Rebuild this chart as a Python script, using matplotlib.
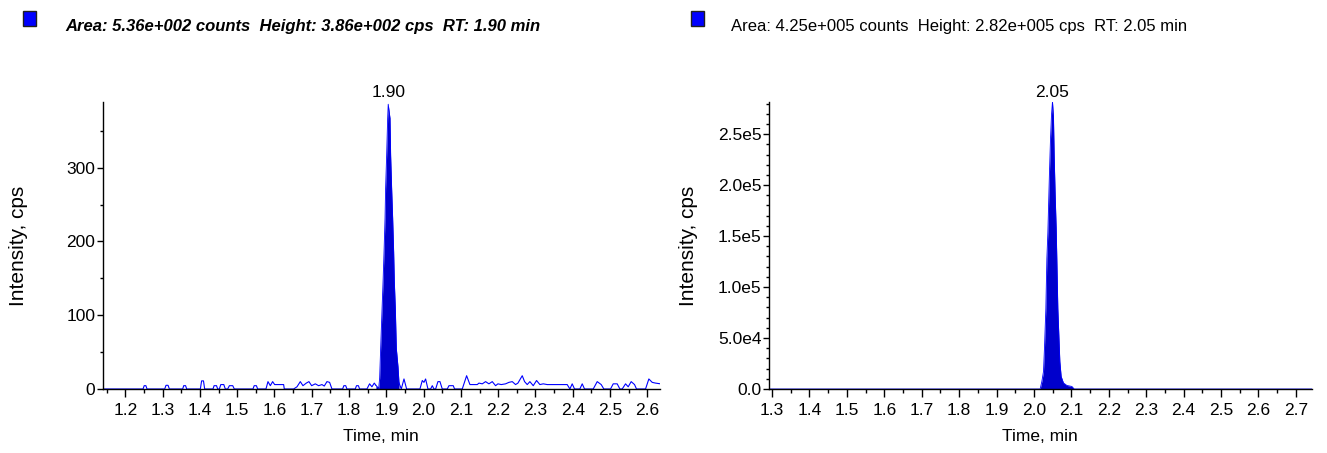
import matplotlib
matplotlib.use("Agg")
import matplotlib.pyplot as plt
from matplotlib.ticker import MultipleLocator, FuncFormatter
from matplotlib.patches import Rectangle

# ---------------- data ----------------
# Left chromatogram: baseline noise (time min, intensity cps)
left_noise_t = [1.140, 1.2474, 1.2505, 1.2550, 1.2581, 1.3055, 1.3090, 1.3145, 1.3180,
                1.3537, 1.3565, 1.3615, 1.3645, 1.4011, 1.4045, 1.4095, 1.4127,
                1.4350, 1.4380, 1.4445, 1.4476, 1.4520, 1.4560, 1.4640, 1.4681,
                1.4744, 1.4790, 1.4880, 1.4922, 1.5423, 1.5455, 1.5515, 1.5548,
                1.5771, 1.5825, 1.5888, 1.5950, 1.6004, 1.6245, 1.6263,
                1.6513, 1.6603, 1.6692, 1.6763, 1.6853, 1.6924, 1.6996, 1.7094,
                1.7183, 1.7273, 1.7335, 1.7407, 1.7478, 1.7541,
                1.7827, 1.7860, 1.7910, 1.7943, 1.8166, 1.8200, 1.8250, 1.8283,
                1.8479, 1.8550, 1.8613, 1.8676, 1.8720]
left_noise_i = [0, 0, 4.5, 4.5, 0, 0, 5, 5, 0,
                0, 4.5, 4.5, 0, 0, 11, 11, 0,
                0, 4.5, 4.5, 0, 0, 6, 6, 0,
                0, 4.5, 4.5, 0, 0, 4.5, 4.5, 0,
                0, 10, 4.5, 10, 6, 6, 0,
                0, 3, 10, 4.5, 8, 10, 4.5, 7,
                4.5, 6, 4, 10, 9, 0,
                0, 4.5, 4.5, 0, 0, 4.5, 4.5, 0,
                0, 7, 3, 8, 5]

# Left chromatogram: peak (filled)
left_peak_t = [1.8720, 1.8794, 1.8820, 1.8847, 1.8885, 1.8912, 1.8938, 1.8965, 1.8980,
               1.9008, 1.9035, 1.9050, 1.9098, 1.9115, 1.9142, 1.9169, 1.9196,
               1.9214, 1.9241, 1.9268, 1.9313, 1.9340]
left_peak_i = [5, 1, 14.5, 55, 109, 146, 186, 232, 272,
               317, 367, 386, 367, 317, 272, 232, 186,
               146, 109, 55, 30, 8]

# Left chromatogram: noise after the peak
left_tail_t = [1.9340, 1.9401, 1.9473, 1.9544, 1.9901, 1.9964, 2.0009, 2.0053, 2.0116,
               2.0187, 2.0232, 2.0277, 2.0322, 2.0384, 2.0438, 2.0500,
               2.0634, 2.0679, 2.0795, 2.0830,
               2.1036, 2.1153, 2.1242, 2.1439, 2.1483, 2.1573, 2.1662, 2.1751, 2.1841,
               2.1930, 2.1993, 2.2082, 2.2198, 2.2288, 2.2377, 2.2466, 2.2529, 2.2645,
               2.2708, 2.2779, 2.2850, 2.2940, 2.3029, 2.3118, 2.3208, 2.3315, 2.3583,
               2.3717, 2.3851, 2.3923, 2.3985, 2.4048,
               2.4190, 2.4254, 2.4316, 2.4549, 2.4656, 2.4763, 2.4834,
               2.5013, 2.5085, 2.5192, 2.5264, 2.5326, 2.5416, 2.5487, 2.5567, 2.5657, 2.5710,
               2.5952, 2.6041, 2.6131, 2.6220, 2.6354]
left_tail_i = [8, 0, 13.6, 0, 0, 11.5, 9, 13.6, 0,
               0, 4.5, 0, 0, 10, 10, 0,
               0, 4.5, 4.5, 0,
               0, 18, 6, 6, 8, 7, 10, 7, 10,
               4.5, 7, 6, 7, 9, 10, 6, 8, 18,
               10, 6, 10, 4.5, 11.5, 6, 7, 6, 6,
               6, 6, 0, 7, 0,
               0, 7, 0, 0, 10, 6, 0,
               0, 7, 7, 0, 0, 7, 3, 10, 6, 0,
               0, 13.6, 9, 8, 7]

# Right chromatogram
right_t = [1.2920, 2.0166, 2.0211, 2.0255, 2.0281, 2.0318, 2.0345, 2.0372, 2.0398, 2.0415,
           2.0443, 2.0469, 2.0495, 2.0522, 2.0540, 2.0567, 2.0594, 2.0611, 2.0638,
           2.0665, 2.0692, 2.0727, 2.0789, 2.0879, 2.1013, 2.1075, 2.7430]
right_i = [0, 0, 7400, 17200, 40000, 79000, 128000, 154000, 190000, 213000,
           246000, 269000, 282000, 266000, 229600, 190000, 157800, 128000, 79000,
           53000, 27000, 12300, 5900, 3500, 2500, 0, 0]

left_title = "Area: 5.36e+002 counts  Height: 3.86e+002 cps  RT: 1.90 min"
right_title = "Area: 4.25e+005 counts  Height: 2.82e+005 cps  RT: 2.05 min"
left_rt, left_height, left_rt_label = 1.905, 386, "1.90"
right_rt, right_height, right_rt_label = 2.0495, 282000, "2.05"
x_label = "Time, min"
y_label = "Intensity, cps"

# ---------------- style ----------------
plt.rcParams["font.family"] = ["Liberation Sans", "DejaVu Sans"]
LINE_C = "#0000FF"
FILL_C = "#0000CC"

fig = plt.figure(figsize=(13.27, 4.53), dpi=100)
axL = fig.add_axes([103/1327, 1-389/453, (660-103)/1327, (389-102)/453])
axR = fig.add_axes([769/1327, 1-389/453, (1312-769)/1327, (389-102)/453])


def style(ax, ylab_x):
    for s in ("top", "right"):
        ax.spines[s].set_visible(False)
    for s in ("left", "bottom"):
        ax.spines[s].set_linewidth(1.0)
        ax.spines[s].set_color("black")
    ax.tick_params(axis="x", which="major", length=5.5, width=1, labelsize=12.5, pad=4.5)
    ax.tick_params(axis="x", which="minor", length=3, width=1)
    ax.tick_params(axis="y", which="major", length=4, width=1, labelsize=12.5, pad=1.5)
    ax.tick_params(axis="y", which="minor", length=2.5, width=1)
    ax.xaxis.set_major_locator(MultipleLocator(0.1))
    ax.xaxis.set_minor_locator(MultipleLocator(0.05))
    ax.xaxis.set_major_formatter(FuncFormatter(lambda v, p: f"{v:.1f}"))
    ax.set_xlabel(x_label, fontsize=12.5)
    ax.xaxis.set_label_coords(0.499, -0.167)
    ax.xaxis.label.set_va("center")
    ax.set_ylabel(y_label, fontsize=15)
    ax.yaxis.set_label_coords(ylab_x, 0.50)
    ax.yaxis.label.set_va("center")


# Left panel
style(axL, (18 - 103) / 557)
axL.plot(left_noise_t, left_noise_i, color=LINE_C, lw=0.8)
axL.plot(left_tail_t, left_tail_i, color=LINE_C, lw=0.8)
axL.fill_between(left_peak_t, left_peak_i, 0, color=FILL_C, lw=0)
axL.plot(left_peak_t, left_peak_i, color=LINE_C, lw=0.6)
axL.set_xlim(1.140, 2.634)
axL.set_ylim(0, 389)
axL.yaxis.set_major_locator(MultipleLocator(100))
axL.yaxis.set_minor_locator(MultipleLocator(50))
axL.annotate(left_rt_label, xy=(left_rt, left_height), xytext=(0, 3), textcoords="offset points",
             ha="center", va="bottom", fontsize=12.5, annotation_clip=False)

# Right panel
style(axR, (688 - 769) / 543)


def sci(v, p):
    if abs(v) < 1e-9:
        return "0.0"
    s = f"{v:.1e}"
    m, e = s.split("e")
    return f"{m}e{int(e)}"


axR.fill_between(right_t, right_i, 0, color=FILL_C, lw=0)
axR.plot(right_t, right_i, color=LINE_C, lw=0.6)
axR.set_xlim(1.292, 2.743)
axR.set_ylim(0, 281500)
axR.yaxis.set_major_locator(MultipleLocator(50000))
axR.yaxis.set_minor_locator(MultipleLocator(10000))
axR.yaxis.set_major_formatter(FuncFormatter(sci))
axR.annotate(right_rt_label, xy=(right_rt, right_height), xytext=(0, 1), textcoords="offset points",
             ha="center", va="bottom", fontsize=12.5, annotation_clip=False)

# Titles with blue legend squares
for (sx, tx, txt, weight, style_) in [(23, 65, left_title, "bold", "italic"),
                                       (691, 731, right_title, "normal", "normal")]:
    fig.patches.append(Rectangle((sx/1327, 1-26/453), 13/1327, 15/453, transform=fig.transFigure,
                                 facecolor="#0000FF", edgecolor="#202020", lw=1.0))
    fig.text(tx/1327, 1-27/453, txt, ha="left", va="center", fontsize=12,
             fontweight=weight, fontstyle=style_)

fig.savefig("out.png", dpi=100)
